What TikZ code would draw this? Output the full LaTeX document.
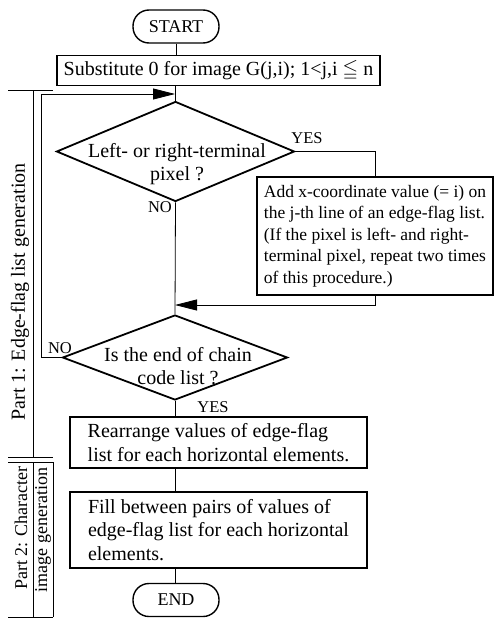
\documentclass[tikz,border=0pt]{standalone}
\usepackage{fontspec}
\setmainfont{Liberation Serif}
\usepackage{amssymb}
\usetikzlibrary{arrows.meta,shapes.geometric}

\tikzset{
  terminal/.style={draw, line width=1.4pt, rounded corners=16pt,
    minimum width=86pt, minimum height=33pt, inner sep=0pt,
    font=\fontsize{18}{20}\selectfont},
  procbox/.style={draw, line width=1.4pt, inner sep=0pt, align=left,
    font=\fontsize{20}{23.5}\selectfont},
  decision/.style={draw, diamond, line width=1.8pt, inner sep=0pt},
  dectext/.style={align=center, inner sep=0pt, font=\fontsize{20}{23}\selectfont},
  flow/.style={line width=0.8pt},
  tip/.style={-{Triangle[length=22pt,width=11pt]}},
  lbl/.style={inner sep=0pt, font=\fontsize{16.5}{18}\selectfont},
  partline/.style={line width=0.8pt},
  parttext/.style={rotate=90, inner sep=0pt}
}

\begin{document}
\begin{tikzpicture}[x=1pt, y=-1pt]

\useasboundingbox (0,0) rectangle (495,618);

% --- Terminals and boxes ---
\node[terminal] (start) at (176,26.5) {START};
\node[procbox, minimum width=323pt, minimum height=30pt] (init) at (218.5,70.5)
  {Substitute 0 for image G(j,i); 1<j,i $\leqq$ n};

% --- First decision ---
\node[decision, minimum width=238pt, minimum height=100pt] (dec1) at (175.5,151.5) {};
\node[dectext] (dec1txt) at (177,164) {Left- or right-terminal\\pixel ?};

\node[procbox, minimum width=236pt, minimum height=118pt,
      font=\fontsize{17.5}{21.6}\selectfont] (add) at (375,236)
  {Add x-coordinate value (= i) on\\
   the j-th line of an edge-flag list.\\
   (If the pixel is left- and right-\\
   terminal pixel, repeat two times\\
   of this procedure.)};

% --- Second decision ---
\node[decision, minimum width=225pt, minimum height=85pt] (dec2) at (175,357.5) {};
\node[dectext] (dec2txt) at (178,366) {Is the end of chain\\code list ?};

\node[procbox, minimum width=297pt, minimum height=51pt] (rearr) at (218.5,442.5)
  {Rearrange values of edge-flag\\list for each horizontal elements.};
\node[procbox, minimum width=297pt, minimum height=76pt] (fill) at (218.5,530)
  {Fill between pairs of values of\\edge-flag list for each horizontal\\elements.};
\node[terminal] (end) at (176,600) {END};

% --- Branch labels ---
\node[lbl] (yes1) at (307,138) {YES};
\node[lbl] (no1) at (160,207) {NO};
\node[lbl] (no2) at (60,348) {NO};
\node[lbl] (yes2) at (213,407) {YES};

% --- Join points on the main line ---
\coordinate (join1) at (175,94);
\coordinate (join2) at (175,305);
\coordinate (loop) at (41,94);

% --- Connectors ---
\draw[flow] (start.south) -- (init.north -| start.south);
\draw[flow] (init.south -| dec1.north) -- (dec1.north);
\draw[flow] (dec1.east) -| (add.north);
\draw[flow, tip] (add.south) |- (join2);
\draw[flow] (dec1.south) -- (dec2.north);
\draw[flow, tip] (dec2.west) -| (loop) -- (join1);
\draw[flow] (dec2.south) -- (rearr.north -| dec2.south);
\draw[flow] (rearr.south -| dec2.south) -- (fill.north -| dec2.south);
\draw[flow] (fill.south -| dec2.south) -- (end.north -| dec2.south);

% --- Part brackets ---
\draw[partline] (8,90) -- (53,90);
\draw[partline] (33,90) -- (33,457);
\draw[partline] (8,457) -- (53,457);
\draw[partline] (8,462) -- (53,462);
\draw[partline] (33,462) -- (33,617);
\draw[partline] (53,462) -- (53,617);
\draw[partline] (8,617) -- (53,617);

\node[parttext, font=\fontsize{20}{22}\selectfont] (part1) at (20,292)
  {Part 1: Edge-flag list generation};
\node[parttext, font=\fontsize{18}{20}\selectfont] (part2a) at (21,528)
  {Part 2: Character};
\node[parttext, font=\fontsize{18}{20}\selectfont] (part2b) at (43,530)
  {image generation};

\end{tikzpicture}
\end{document}
